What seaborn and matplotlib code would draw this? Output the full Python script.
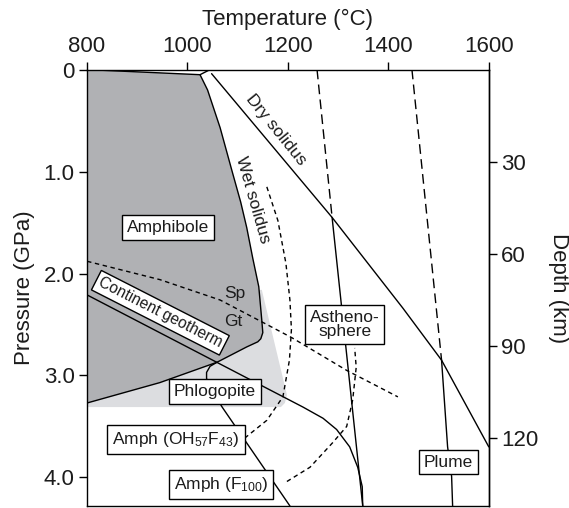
import numpy as np
import pandas as pd
import matplotlib
matplotlib.use("Agg")
import matplotlib.pyplot as plt
import seaborn as sns

# ---- data (temperature in degC, pressure in GPa) ----
amph_top_T = [800, 1025]
amph_top_P = [0.0, 0.05]

wet_T = [1045, 1025, 1040, 1065, 1089, 1106, 1118, 1130, 1142, 1148, 1150, 1146, 1140, 1118, 1059, 945, 800]
wet_P = [0.0, 0.05, 0.20, 0.57, 1.00, 1.30, 1.55, 1.85, 2.13, 2.46, 2.58, 2.64, 2.67, 2.72, 2.87, 3.07, 3.27]

light_T = [800, 1148, 1198, 1194, 1186, 800]
light_P = [2.30, 2.16, 3.19, 3.27, 3.31, 3.31]

dry_T = [1048, 1288, 1429, 1506, 1600]
dry_P = [0.04, 1.45, 2.34, 2.85, 3.70]

adiabat1_dash_T = [1258, 1288]
adiabat1_dash_P = [0.0, 1.45]
asthen_T = [1288, 1349]
asthen_P = [1.45, 4.28]

adiabat2_dash_T = [1447, 1506]
adiabat2_dash_P = [0.0, 2.85]
plume_T = [1506, 1518, 1526, 1528]
plume_P = [2.85, 3.70, 3.99, 4.28]

spgt_T = [800, 945, 1065, 1158, 1208, 1317, 1419]
spgt_P = [1.88, 2.06, 2.26, 2.50, 2.63, 2.95, 3.21]

geo_T = [800, 1230, 1270, 1297, 1323, 1339, 1348, 1349]
geo_P = [2.21, 3.31, 3.42, 3.53, 3.70, 3.90, 4.09, 4.28]

phl_T = [1059, 1045, 1038, 1038, 1050, 1069, 1204]
phl_P = [2.87, 2.91, 2.97, 3.03, 3.15, 3.31, 4.28]

amphOHF_T = [1158, 1180, 1196, 1204, 1207, 1203, 1190, 1158, 1110]
amphOHF_P = [1.15, 1.48, 1.90, 2.26, 2.55, 2.85, 3.21, 3.44, 3.63]

amphF_T = [1198, 1244, 1289, 1317, 1329, 1336, 1333]
amphF_P = [4.04, 3.90, 3.66, 3.50, 3.24, 2.92, 2.73]

temp_ticks = [800, 1000, 1200, 1400, 1600]
pres_ticks = [0, 1.0, 2.0, 3.0, 4.0]
pres_labels = ["0", "1.0", "2.0", "3.0", "4.0"]
depth_ticks = [30, 60, 90, 120]
KM_PER_GPA = 33.2

# ---- style ----
sns.set_theme(style="ticks")
plt.rcParams["font.family"] = ["Liberation Sans", "DejaVu Sans"]
plt.rcParams["mathtext.fontset"] = "custom"
plt.rcParams["mathtext.rm"] = "Liberation Sans"
plt.rcParams["mathtext.it"] = "Liberation Sans"
plt.rcParams["axes.edgecolor"] = "black"
plt.rcParams["axes.linewidth"] = 1.0

TXT = "#1c1c1c"

fig = plt.figure(figsize=(5.69, 5.08), dpi=100)
ax = fig.add_axes([0.153, 0.004, 0.706, 0.859])

DARK = "#b0b1b4"
LIGHT = "#dcdde0"

# shaded stability fields
ax.fill(light_T, light_P, color=LIGHT, lw=0, zorder=0.5)
amph_T = amph_top_T + wet_T[2:]
amph_P = amph_top_P + wet_P[2:]
ax.fill(amph_T, amph_P, color=DARK, lw=0, zorder=0.6)


def line(T, P, ls="-", lw=1.0):
    df = pd.DataFrame({"T": T, "P": P})
    sns.lineplot(data=df, x="T", y="P", sort=False, estimator=None, color="black",
                 lw=lw, linestyle=ls, ax=ax, zorder=2)


LONG = (0, (7, 3.8))
SHORT = (0, (3.2, 2.6))

line(amph_top_T, amph_top_P)
line(wet_T, wet_P)
line(dry_T, dry_P)
line(adiabat1_dash_T, adiabat1_dash_P, LONG)
line(asthen_T, asthen_P)
line(adiabat2_dash_T, adiabat2_dash_P, LONG)
line(plume_T, plume_P)
line(spgt_T, spgt_P, SHORT)
line(geo_T, geo_P)
line(phl_T, phl_P)
line(amphOHF_T, amphOHF_P, SHORT)
line(amphF_T, amphF_P, SHORT)

# boxed field labels
box = dict(boxstyle="square,pad=0.28", fc="white", ec="black", lw=1.0)
fs = 12.5
for T, P, s in [
    (961, 1.55, "Amphibole"),
    (1055, 3.16, "Phlogopite"),
    (977, 3.63, r"Amph (OH$_{\mathregular{57}}$F$_{\mathregular{43}}$)"),
    (1067, 4.07, r"Amph (F$_{\mathregular{100}}$)"),
    (1520, 3.85, "Plume"),
]:
    ax.text(T, P, s, ha="center", va="center", fontsize=fs, color=TXT, bbox=box, zorder=5)

ax.text(1313, 2.50, "Astheno-\nsphere", ha="center", va="center", fontsize=fs, color=TXT,
        bbox=box, zorder=5, linespacing=0.95)
ax.text(946, 2.385, "Continent geotherm", ha="center", va="center", fontsize=11.2, color=TXT,
        rotation=-27, rotation_mode="anchor",
        bbox=dict(boxstyle="square,pad=0.22", fc="white", ec="black", lw=1.0), zorder=5)
ax.text(1130, 1.28, "Wet solidus", ha="center", va="center", fontsize=fs, color=TXT,
        rotation=-74, rotation_mode="anchor", zorder=5)
ax.text(1177, 0.59, "Dry solidus", ha="center", va="center", fontsize=fs, color=TXT,
        rotation=-51, rotation_mode="anchor", zorder=5)
ax.text(1095, 2.20, "Sp", ha="center", va="center", fontsize=fs, color=TXT, zorder=5)
ax.text(1091, 2.47, "Gt", ha="center", va="center", fontsize=fs, color=TXT, zorder=5)

# axes
ax.set_xlim(800, 1600)
ax.set_ylim(4.28, 0)
ax.xaxis.tick_top()
ax.xaxis.set_label_position("top")
ax.set_xticks(temp_ticks)
ax.set_yticks(pres_ticks)
ax.set_yticklabels(pres_labels)
ax.tick_params(axis="both", labelsize=16, length=6, width=1.0, color="black",
               labelcolor=TXT, direction="out", pad=3)
ax.set_xlabel("Temperature (\u00b0C)", fontsize=16, labelpad=8, color=TXT)
ax.set_ylabel("Pressure (GPa)", fontsize=16, labelpad=6, color=TXT)
for sp in ax.spines.values():
    sp.set_visible(True)
    sp.set_linewidth(1.0)

sec = ax.secondary_yaxis("right", functions=(lambda p: p * KM_PER_GPA, lambda d: d / KM_PER_GPA))
sec.set_yticks(depth_ticks)
sec.tick_params(labelsize=16, length=6, width=1.0, color="black", labelcolor=TXT, pad=3)
sec.set_ylabel("Depth (km)", fontsize=16, rotation=270, labelpad=22, color=TXT)

fig.savefig("out.png", dpi=100)
